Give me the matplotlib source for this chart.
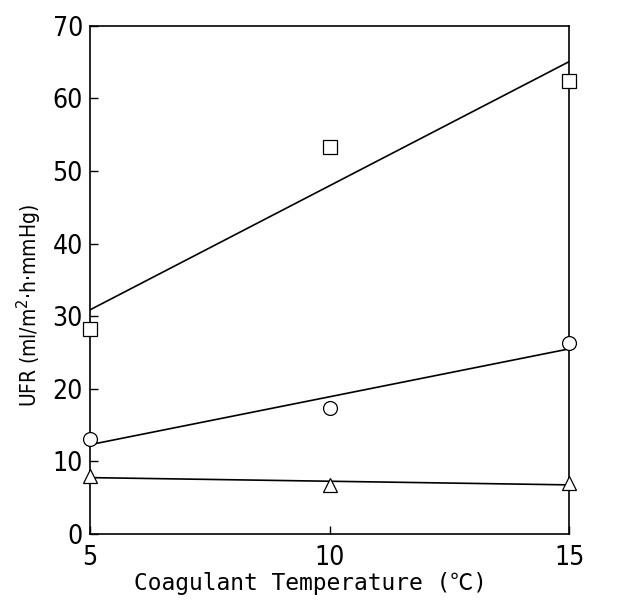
import numpy as np
import matplotlib
matplotlib.use('Agg')
import matplotlib.pyplot as plt

# coagulant temperature (C)
temps = [5, 10, 15]

# UFR readings per series
ufr_square = [28.2, 53.3, 62.4]
ufr_circle = [13.1, 17.3, 26.3]
ufr_triangle = [8.0, 6.8, 7.0]

xticks = [5, 10, 15]
yticks = [0, 10, 20, 30, 40, 50, 60, 70]

fig = plt.figure(figsize=(6.2, 6.0), dpi=100)
ax = fig.add_axes([0.145, 0.11, 0.773, 0.847])

series = [(ufr_square, 's'), (ufr_circle, 'o'), (ufr_triangle, '^')]
xs = np.array(temps, dtype=float)
for vals, mk in series:
    # least squares line through each set
    k, b = np.polyfit(xs, vals, 1)
    ax.plot([xs[0], xs[-1]], [k * xs[0] + b, k * xs[-1] + b], color='black', lw=1.2, zorder=2)
    ax.plot(xs, vals, linestyle='none', marker=mk, markersize=10, markerfacecolor='white',
            markeredgecolor='black', markeredgewidth=0.9, clip_on=False, zorder=3)

ax.set_xlim(5, 15)
ax.set_ylim(0, 70)
ax.set_xticks(xticks)
ax.set_yticks(yticks)

ax.tick_params(direction='in', length=6, width=1, labelsize=19)
ax.tick_params(axis='x', pad=8)
ax.tick_params(axis='y', pad=5)
for lab in ax.get_xticklabels() + ax.get_yticklabels():
    lab.set_family('DejaVu Sans')
    lab.set_stretch('condensed')

for sp in ax.spines.values():
    sp.set_linewidth(1.2)

ax.set_xlabel('Coagulant Temperature (\u2103)', fontsize=16.5,
              family=['DejaVu Sans Mono', 'Noto Sans CJK JP'])
ax.xaxis.set_label_coords(0.46, -0.075)
ax.set_ylabel('UFR (ml/m$^2$\u00b7h\u00b7mmHg)', fontsize=15,
              family='DejaVu Sans', stretch='condensed')
ax.yaxis.set_label_coords(-0.095, 0.45)

plt.savefig('out.png', dpi=100)
